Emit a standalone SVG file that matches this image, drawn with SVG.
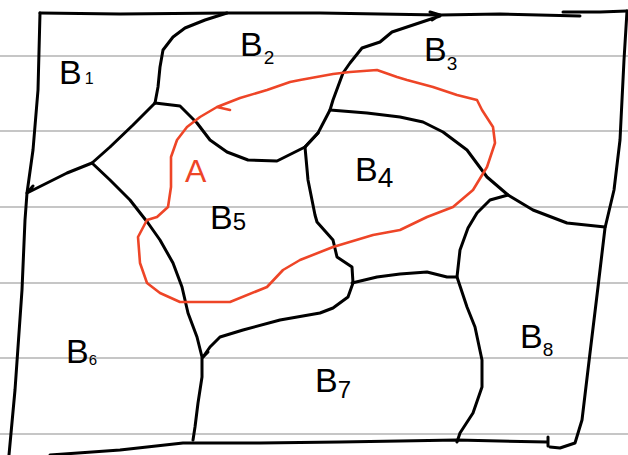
<svg xmlns="http://www.w3.org/2000/svg" width="628" height="455" viewBox="0 0 628 455">
<style>
.rule{stroke:#c6c6c6;stroke-width:2;fill:none}
.ink{stroke:#000;stroke-width:3;fill:none;stroke-linecap:round;stroke-linejoin:round}
.red{stroke:#ee4527;stroke-width:2.6;fill:none;stroke-linecap:round;stroke-linejoin:round}
.lbl{font-family:"Liberation Sans","DejaVu Sans",sans-serif;font-size:34px;fill:#000}
.alab{font-family:"Liberation Sans","DejaVu Sans",sans-serif;font-size:32px;fill:#ee4527}
</style>
<rect width="628" height="455" fill="#fff"/>
<g id="rules">
<line class="rule" x1="0" y1="56" x2="628" y2="56"/>
<line class="rule" x1="0" y1="131" x2="628" y2="131"/>
<line class="rule" x1="0" y1="207" x2="628" y2="207"/>
<line class="rule" x1="0" y1="283" x2="628" y2="283"/>
<line class="rule" x1="0" y1="358" x2="628" y2="358"/>
<line class="rule" x1="0" y1="434" x2="628" y2="434"/>
</g>
<g id="connectors">
<path id="outer-top" class="ink" d="M40,13 L120,14 L227,13 L320,13 L380,14 L440,15 L500,14 L580,16 M563,12 L600,12 L627,11"/>
<path id="outer-right" class="ink" d="M627,11 L624,60 L622,100 L620,140 L614,190 L605,228 L598,287 L590,353 L582,420 L575,443 L560,448 L550,447"/>
<path id="outer-bottom" class="ink" d="M50,455 L120,450 L183,443 L260,443 L340,442 L400,441 L457,440 L547,442 M548,437 L548,446"/>
<path id="outer-left" class="ink" d="M40,13 L38,90 L33,150 L27,193 L25,220 L22,290 L15,390 L9,455"/>
<path id="b1-b2" class="ink" d="M227,13 L205,20 L185,28 L173,37 L163,50 L160,67 L158,87 L155,103"/>
<path id="b2-b5" class="ink" d="M155,103 L180,106 L197,123 L210,140 L227,152 L248,160 L277,161 L293,153 L305,147 L318,133"/>
<path id="b2-b3" class="ink" d="M305,147 L318,133 L330,110 L333,100 L343,73 L350,63 L362,48 L380,42 L392,32 L440,16 M430,12 L440,15 L432,20"/>
<path id="b5-b4" class="ink" d="M305,147 L308,180 L312,200 L315,215 L317,222 L333,240 L337,257 L352,267 L353,283 L348,297 L333,308 L320,313 L280,320 L243,330 L220,337 L210,347 L203,357"/>
<path id="b3-b4" class="ink" d="M330,110 L367,113 L400,117 L423,122 L443,132 L467,150 L487,177 L508,195 L533,210 L567,223 L605,227"/>
<path id="b8-left" class="ink" d="M508,195 L490,200 L477,213 L468,228 L460,250 L457,277 L467,307 L475,327 L482,360 L482,387 L473,413 L460,433 L457,442"/>
<path id="b4-b7" class="ink" d="M352,283 L377,277 L400,274 L427,272 L447,277 L457,277"/>
<path id="b1-b5" class="ink" d="M155,103 L133,125 L110,147 L92,163 L67,173 L27,193 M27,193 L33,186"/>
<path id="b5-b6" class="ink" d="M92,163 L110,180 L130,200 L148,223 L160,240 L173,263 L182,287 L188,313 L197,337 L202,357 L202,377 L198,403 L195,427 L193,440"/>
<path id="b7-tick" class="ink" d="M203,357 L208,352"/>
</g>
<g id="event-A">
<path class="red" d="M300,80 L333,74 L350,72 L377,70 L397,77 L407,80 L433,87 L457,95 L477,100 L482,110 L493,127 L495,143 L487,167 L473,190 L453,207 L427,217 L400,230 L373,235 L333,247 L300,260 L283,270 L267,287 L230,302 L180,302 L160,293 L147,283 L140,263 L138,237 L147,220 L157,217 L168,207 L171,187 L171,157 L177,140 L187,127 L200,117 L217,107 L240,98 L267,90 L290,82 L300,80 M217,107 L230,110"/>
<text class="alab" x="185" y="182">A</text>
</g>
<g id="B1"><text class="lbl" x="59" y="84">B<tspan style="font-size:16px" dx="3">1</tspan></text></g>
<g id="B2"><text class="lbl" x="240" y="56">B<tspan style="font-size:19px" dx="1" dy="8">2</tspan></text></g>
<g id="B3"><text class="lbl" x="424" y="61">B<tspan style="font-size:19px" dy="9">3</tspan></text></g>
<g id="B4"><text class="lbl" x="355" y="181">B<tspan style="font-size:28px" dy="6">4</tspan></text></g>
<g id="B5"><text class="lbl" x="210" y="229">B<tspan style="font-size:24px" dy="1">5</tspan></text></g>
<g id="B6"><text class="lbl" x="66" y="363">B<tspan style="font-size:15px" dy="2">6</tspan></text></g>
<g id="B7"><text class="lbl" x="315" y="392">B<tspan style="font-size:24px" dy="6">7</tspan></text></g>
<g id="B8"><text class="lbl" x="520" y="348">B<tspan style="font-size:19px" dy="8">8</tspan></text></g>
</svg>
